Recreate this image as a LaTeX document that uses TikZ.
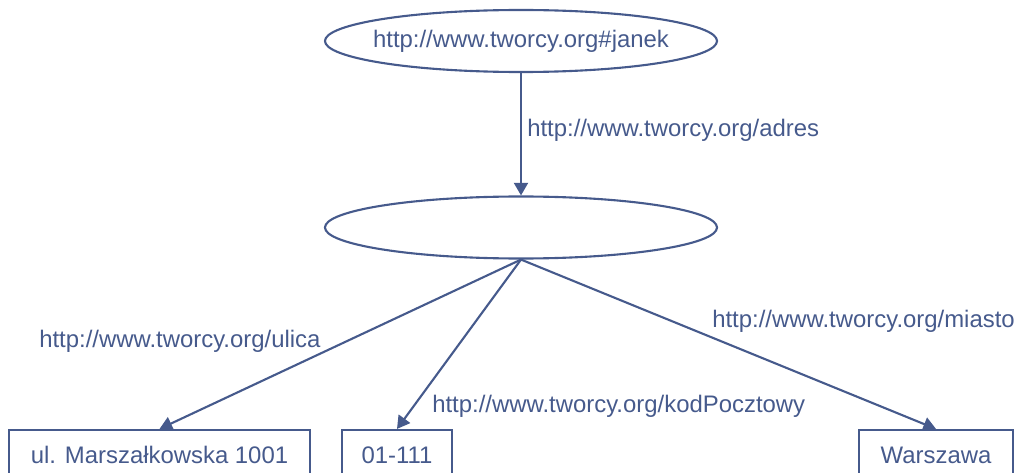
\documentclass[tikz,border=0pt]{standalone}
\usepackage{fontspec}
\setmainfont{Liberation Sans}
\usetikzlibrary{shapes.geometric}
\usetikzlibrary{arrows.meta}
\definecolor{rdfblue}{RGB}{70,90,140}

\begin{document}
\begin{tikzpicture}[x=0.025cm,y=-0.025cm,
  font=\fontsize{17}{20}\selectfont,text=rdfblue,
  res/.style={ellipse,draw=rdfblue,line width=1.5pt,minimum width=9.8cm,minimum height=1.55cm,inner xsep=-8pt,inner ysep=0pt},
  lit/.style={rectangle,draw=rdfblue,line width=1.5pt,minimum height=1.25cm,inner sep=0pt},
  prop/.style={anchor=base west,inner sep=0pt},
  edge/.style={draw=rdfblue,line width=1.5pt,-{Triangle[length=9pt,width=10pt]}}]
  \useasboundingbox (0,0) rectangle (1015,473);
  \clip (0,0) rectangle (1015,473);

  % subject and blank node
  \node[res] (janek) at (521,41) {http://www.tworcy.org\#janek};
  \node[res] (adres) at (521,227.5) {};

  % literals (cut by the lower edge)
  \node[lit,minimum width=7.525cm] (ulica) at (159.5,455) {ul. Marszałkowska 1001};
  \node[lit,minimum width=2.75cm] (kod) at (397,455) {01-111};
  \node[lit,minimum width=3.85cm] (miasto) at (936,455) {Warszawa};

  \draw[edge] (janek) -- (adres.north);
  \draw[edge] (adres.south) -- (ulica.north);
  \draw[edge] (adres.south) -- (kod.north);
  \draw[edge] (adres.south) -- (miasto.north);

  % property names
  \node[prop] (padres) at (527,137) {http://www.tworcy.org/adres};
  \node[prop] (pulica) at (39,347) {http://www.tworcy.org/ulica};
  \node[prop] (pmiasto) at (712,327) {http://www.tworcy.org/miasto};
  \node[prop] (pkod) at (432,412) {http://www.tworcy.org/kodPocztowy};
\end{tikzpicture}
\end{document}
